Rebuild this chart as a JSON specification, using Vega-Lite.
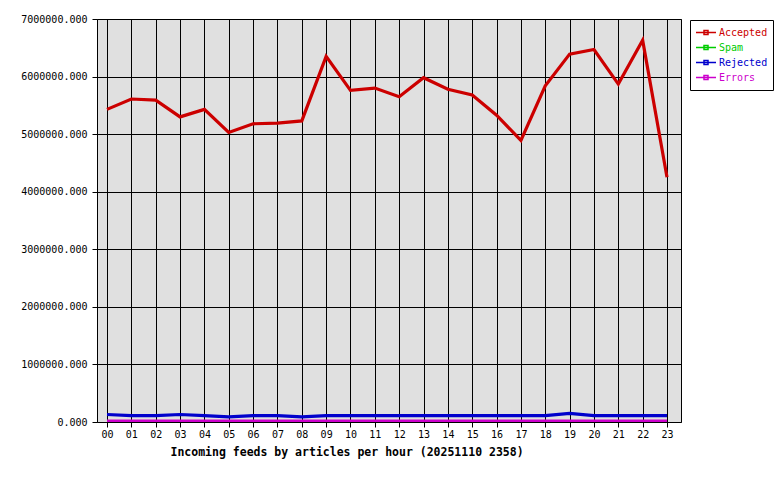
{
  "$schema": "https://vega.github.io/schema/vega-lite/v6.json",
  "autosize": {"type": "none"},
  "width": 584,
  "height": 403,
  "padding": {"left": 97, "top": 19, "right": 99, "bottom": 58},
  "background": "white",
  "config": {
    "view": {"fill": "#e0e0e0", "stroke": "black", "strokeWidth": 1},
    "font": "DejaVu Sans Mono",
    "axis": {
      "labelFont": "DejaVu Sans Mono",
      "labelFontSize": 10,
      "labelColor": "black",
      "gridColor": "black",
      "gridOpacity": 1,
      "gridWidth": 1,
      "tickColor": "black",
      "tickSize": 5,
      "domain": false
    }
  },
  "data": {
    "values": [
      {"hour": "00", "Accepted": 5430000, "Spam": 0, "Rejected": 130000, "Errors": 15000},
      {"hour": "01", "Accepted": 5610000, "Spam": 0, "Rejected": 110000, "Errors": 15000},
      {"hour": "02", "Accepted": 5590000, "Spam": 0, "Rejected": 110000, "Errors": 15000},
      {"hour": "03", "Accepted": 5300000, "Spam": 0, "Rejected": 130000, "Errors": 15000},
      {"hour": "04", "Accepted": 5430000, "Spam": 0, "Rejected": 110000, "Errors": 15000},
      {"hour": "05", "Accepted": 5030000, "Spam": 0, "Rejected": 90000, "Errors": 15000},
      {"hour": "06", "Accepted": 5180000, "Spam": 0, "Rejected": 110000, "Errors": 15000},
      {"hour": "07", "Accepted": 5190000, "Spam": 0, "Rejected": 110000, "Errors": 15000},
      {"hour": "08", "Accepted": 5230000, "Spam": 0, "Rejected": 90000, "Errors": 15000},
      {"hour": "09", "Accepted": 6350000, "Spam": 0, "Rejected": 110000, "Errors": 15000},
      {"hour": "10", "Accepted": 5760000, "Spam": 0, "Rejected": 110000, "Errors": 15000},
      {"hour": "11", "Accepted": 5800000, "Spam": 0, "Rejected": 110000, "Errors": 15000},
      {"hour": "12", "Accepted": 5650000, "Spam": 0, "Rejected": 110000, "Errors": 15000},
      {"hour": "13", "Accepted": 5980000, "Spam": 0, "Rejected": 110000, "Errors": 15000},
      {"hour": "14", "Accepted": 5780000, "Spam": 0, "Rejected": 110000, "Errors": 15000},
      {"hour": "15", "Accepted": 5680000, "Spam": 0, "Rejected": 110000, "Errors": 15000},
      {"hour": "16", "Accepted": 5330000, "Spam": 0, "Rejected": 110000, "Errors": 15000},
      {"hour": "17", "Accepted": 4890000, "Spam": 0, "Rejected": 110000, "Errors": 15000},
      {"hour": "18", "Accepted": 5840000, "Spam": 0, "Rejected": 110000, "Errors": 15000},
      {"hour": "19", "Accepted": 6390000, "Spam": 0, "Rejected": 150000, "Errors": 15000},
      {"hour": "20", "Accepted": 6470000, "Spam": 0, "Rejected": 110000, "Errors": 15000},
      {"hour": "21", "Accepted": 5870000, "Spam": 0, "Rejected": 110000, "Errors": 15000},
      {"hour": "22", "Accepted": 6630000, "Spam": 0, "Rejected": 110000, "Errors": 15000},
      {"hour": "23", "Accepted": 4250000, "Spam": 0, "Rejected": 110000, "Errors": 15000}
    ]
  },
  "transform": [
    {"fold": ["Accepted", "Spam", "Rejected", "Errors"], "as": ["series", "value"]}
  ],
  "mark": {"type": "line", "clip": true, "strokeWidth": 3.2},
  "encoding": {
    "x": {
      "field": "hour",
      "type": "ordinal",
      "scale": {"type": "point", "padding": 0.493, "align": 0.417},
      "axis": {
        "labelAngle": 0,
        "grid": true,
        "labelPadding": 2,
        "title": "Incoming feeds by articles per hour (20251110 2358)",
        "titleFont": "DejaVu Sans Mono",
        "titleFontSize": 11.5,
        "titleFontWeight": "bold",
        "titleColor": "black",
        "titleAnchor": "start",
        "titleAlign": "left",
        "titleX": 73,
        "titleY": 30,
        "titleBaseline": "middle"
      }
    },
    "y": {
      "field": "value",
      "type": "quantitative",
      "scale": {"domain": [0, 7000000], "nice": false, "zero": true},
      "axis": {
        "values": [0, 1000000, 2000000, 3000000, 4000000, 5000000, 6000000, 7000000],
        "format": ".3f",
        "grid": true,
        "title": null,
        "labelPadding": 5
      }
    },
    "color": {
      "field": "series",
      "type": "nominal",
      "sort": ["Accepted", "Spam", "Rejected", "Errors"],
      "scale": {
        "domain": ["Accepted", "Spam", "Rejected", "Errors"],
        "range": ["#cc0000", "#00cc00", "#0000cc", "#cc00cc"]
      },
      "legend": {
        "title": null,
        "orient": "none",
        "legendX": 593,
        "legendY": 1,
        "direction": "vertical",
        "fillColor": "white",
        "strokeColor": "black",
        "padding": 5,
        "symbolType": "M-1,0H1M-0.2,-0.2H0.2V0.2H-0.2Z",
        "symbolSize": 400,
        "symbolStrokeWidth": 1.5,
        "symbolFillColor": "white",
        "clipHeight": 15,
        "rowPadding": 0,
        "labelOffset": 2,
        "labelFont": "DejaVu Sans Mono",
        "labelFontSize": 10,
        "encode": {
          "labels": {"update": {"fill": {"signal": "scale('color', datum.value)"}}}
        }
      }
    },
    "order": {"field": "series"}
  }
}
